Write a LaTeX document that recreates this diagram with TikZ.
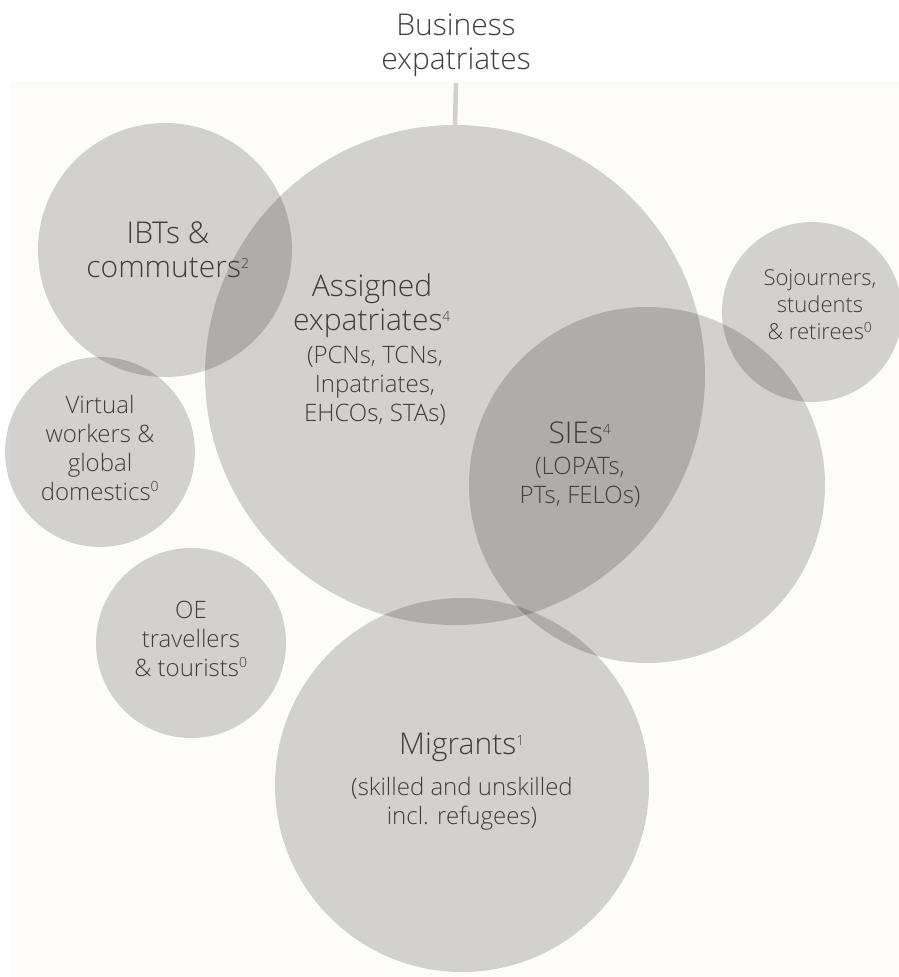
\documentclass[tikz,border=0pt]{standalone}
\usepackage{fontspec}
\setmainfont{Open Sans}[UprightFont={* Light}]
\usepackage{tikz}
\usetikzlibrary{positioning}

\definecolor{textgray}{RGB}{62,62,62}
\definecolor{stemgray}{RGB}{208,208,208}
\definecolor{paper}{RGB}{253,252,250}

\newcommand{\fnref}[1]{\textsuperscript{\fontsize{14}{14}\selectfont #1}}

\begin{document}
\begin{tikzpicture}
		[x=1pt, y=-1pt,
		bubble/.style={circle, fill=black, fill opacity=0.17, inner sep=0pt, minimum size=#1pt},
		big label/.style={align=center, text=textgray, font=\fontsize{30}{34}\selectfont},
		small label/.style={align=center, text=textgray, font=\fontsize{24}{29}\selectfont},
		stem/.style={line width=4.5pt, draw=stemgray}]

		\useasboundingbox (0,0) rectangle (899,977);
		\fill[paper] (10,81) rectangle (899,977);

		% the circles, darker where they overlap
		\node[bubble=254] (ibt) at (165,250) {};
		\node[bubble=500] (assigned) at (455,375) {};
		\node[bubble=180] (sojourn) at (812,312) {};
		\node[bubble=190] (virtual) at (100,452) {};
		\node[bubble=356] (sie) at (647,485) {};
		\node[bubble=190] (oe) at (191,643) {};
		\node[bubble=374] (migrant) at (462,785) {};

		\node[big label] (bizlbl) at (456,45) {Business\\expatriates};
		\coordinate (stemtop) at (456,83);
		\draw[stem] (stemtop) -- (assigned.north);

		\node[big label] (ibtlbl) at (168,250) {IBTs \&\\commuters\fnref{2}};
		\node[big label] (assignedlbl) at (372,306) {Assigned\\expatriates\fnref{4}};
		\node[small label] (assignedsub) at (375,386) {(PCNs, TCNs,\\Inpatriates,\\EHCOs, STAs)};
		\node[small label, font=\fontsize{22}{27}\selectfont] (sojournlbl) at (820,305) {Sojourners,\\students\\\& retirees\fnref{0}};
		\node[small label] (virtuallbl) at (100,448) {Virtual\\workers \&\\global\\domestics\fnref{0}};
		\node[big label] (sielbl) at (580,433) {SIEs\fnref{4}};
		\node[small label] (siesub) at (580,482) {(LOPATs,\\PTs, FELOs)};
		\node[small label] (oelbl) at (191,639) {OE\\travellers\\\& tourists\fnref{0}};
		\node[big label] (migrantlbl) at (462,747) {Migrants\fnref{1}};
		\node[small label] (migrantsub) at (462,804) {(skilled and unskilled\\incl. refugees)};

	\end{tikzpicture}
\end{document}
